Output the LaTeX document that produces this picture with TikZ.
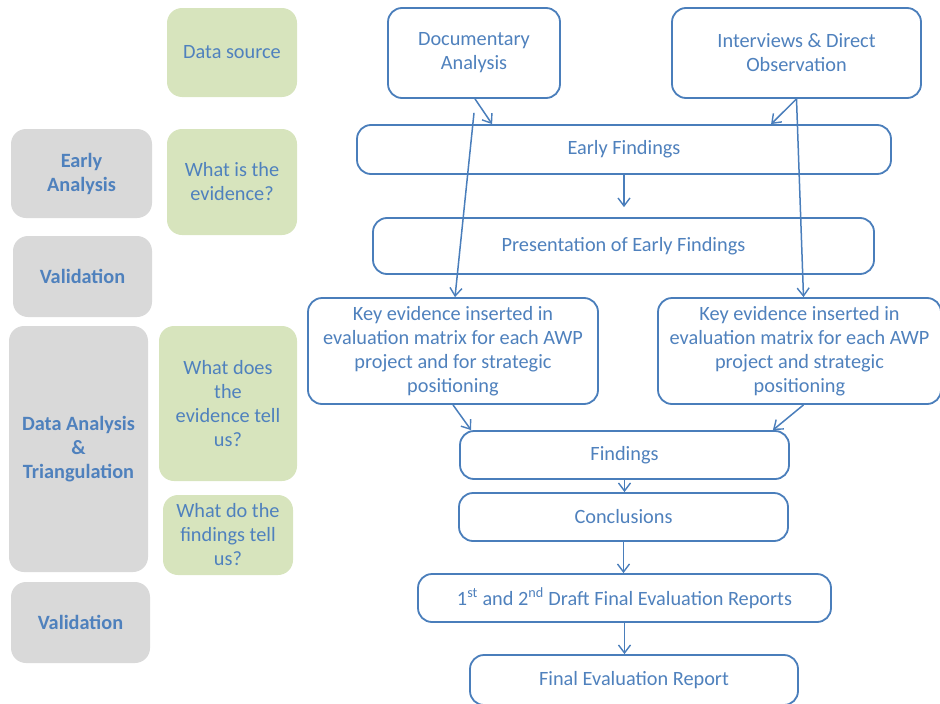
\documentclass[tikz,border=0pt]{standalone}
\usepackage{fontspec}
\setmainfont{Carlito}
\usetikzlibrary{arrows.meta,calc}
\definecolor{txtblue}{RGB}{79,129,189}
\definecolor{edgeblue}{RGB}{74,126,187}
\definecolor{grayfill}{RGB}{217,217,217}
\definecolor{greenfill}{RGB}{215,228,189}
\tikzset{
  flowbox/.style={draw=edgeblue, line width=1.8pt, rounded corners=14pt, fill=white,
    text=txtblue, align=center, inner sep=0pt, font=\fontsize{20.3}{24}\selectfont},
  graybox/.style={draw=none, rounded corners=15pt, fill=grayfill,
    text=txtblue, align=center, inner sep=0pt, font=\fontsize{20.3}{24}\selectfont\bfseries},
  greenbox/.style={draw=none, rounded corners=15pt, fill=greenfill,
    text=txtblue, align=center, inner sep=0pt, font=\fontsize{20.3}{24}\selectfont},
  conn/.style={draw=edgeblue, line width=1.5pt, -{Straight Barb[length=8pt,width=12pt,line width=1.4pt]}}
}
\begin{document}
\begin{tikzpicture}[x=1pt,y=-1pt]
\useasboundingbox (0,0) rectangle (940,704);
% left column
\node[graybox, minimum width=141, minimum height=89] (ea) at (81.5,173.5) {Early\\Analysis};
\node[graybox, minimum width=139, minimum height=81] (v1) at (82.5,276.5) {Validation};
\node[graybox, minimum width=139, minimum height=246] (dat) at (78.5,449) {Data Analysis\\\&\\Triangulation};
\node[graybox, minimum width=139, minimum height=81] (v2) at (80.5,622.5) {Validation};
% green column
\node[greenbox, minimum width=130, minimum height=89] (ds) at (232,52.5) {Data source};
\node[greenbox, minimum width=130, minimum height=106] (we) at (232,182) {What is the\\evidence?};
\node[greenbox, minimum width=138, minimum height=155] (wd) at (228,403.5) {What does\\the\\evidence tell\\us?};
\node[greenbox, minimum width=130, minimum height=80] (wf) at (228,535) {What do the\\findings tell\\us?};
% flow
\node[flowbox, minimum width=172, minimum height=90] (doc) at (474,53) {Documentary\\Analysis};
\node[flowbox, minimum width=249, minimum height=90] (int) at (796.5,53) {Interviews \& Direct\\Observation};
\node[flowbox, minimum width=534, minimum height=49] (ef) at (624,149.5) {Early Findings};
\node[flowbox, minimum width=501, minimum height=56] (pres) at (623.5,246) {Presentation of Early Findings};
\node[flowbox, minimum width=290, minimum height=106] (kl) at (453,351) {Key evidence inserted in\\evaluation matrix for each AWP\\project and for strategic\\positioning};
\node[flowbox, minimum width=283, minimum height=106] (kr) at (799.5,351) {Key evidence inserted in\\evaluation matrix for each AWP\\project and strategic\\positioning};
\node[flowbox, minimum width=329, minimum height=48] (find) at (624.5,455) {Findings};
\node[flowbox, minimum width=329, minimum height=48] (conc) at (623.5,517) {Conclusions};
\node[flowbox, minimum width=413, minimum height=48] (draft) at (624.5,598) {1\textsuperscript{st} and 2\textsuperscript{nd} Draft Final Evaluation Reports};
\node[flowbox, minimum width=328, minimum height=50] (final) at (634,680) {Final Evaluation Report};
% connectors
\draw[conn] ($(doc.south)+(1,0)$) -- ($(ef.north west)+(136,0)$);
\draw[conn] (int.south) -- ($(ef.north west)+(415,0)$);
\draw[conn] ($(doc.south)+(0,14)$) -- ($(kl.north)+(2,0)$);
\draw[conn] (int.south) -- ($(kr.north)+(4,0)$);
\draw[conn, shorten >=10pt] (ef.south) -- (ef.south |- pres.north);
\draw[conn] (kl.south) -- ($(find.north west)+(12,0)$);
\draw[conn] ($(kr.south)+(4,0)$) -- ($(find.north east)+(-17,0)$);
\draw[conn] (find.south) -- (find.south |- conc.north);
\draw[conn] (conc.south) -- (conc.south |- draft.north);
\draw[conn] (draft.south) -- (draft.south |- final.north);
\end{tikzpicture}
\end{document}
